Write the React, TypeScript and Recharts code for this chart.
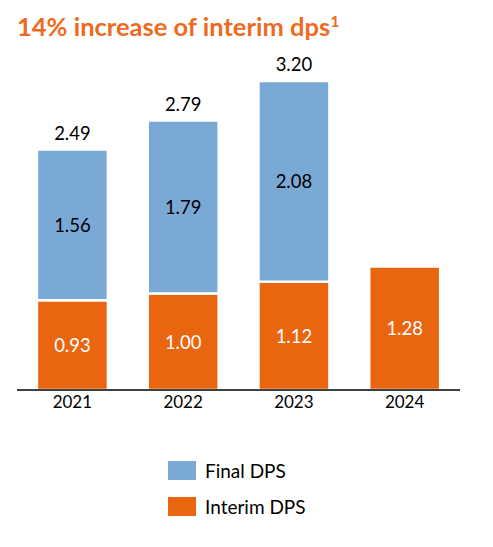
import React from 'react';
import { BarChart, Bar, XAxis, YAxis, LabelList, Legend } from 'recharts';

const years = ['2021', '2022', '2023', '2024'];
const finalDps: (number | null)[] = [1.56, 1.79, 2.08, null];
const interimDps: number[] = [0.93, 1.0, 1.12, 1.28];
const totalDps: (number | null)[] = [2.49, 2.79, 3.2, null];

const data = years.map((y, i) => ({
  year: y,
  final: finalDps[i],
  interim: interimDps[i],
  total: totalDps[i],
}));

const BLUE = '#7BA9D6';
const ORANGE = '#E9650F';
const FONT = 'Lato, "Open Sans", sans-serif';

const fmt = (v: any) => (v == null ? '' : Number(v).toFixed(2));

const TopLabel = (props: any) => {
  const { x, y, width, value } = props;
  if (value == null) return null;
  return (
    <text x={x + width / 2} y={y - 17} textAnchor="middle" dominantBaseline="central" fill="#000" fontSize={18.5} fontFamily={FONT}>
      {fmt(value)}
    </text>
  );
};

const makeInner = (color: string) => (props: any) => {
  const { x, y, width, height, value } = props;
  if (value == null) return null;
  return (
    <text x={x + width / 2} y={y + height / 2} textAnchor="middle" dominantBaseline="central" fill={color} fontSize={18.5} fontFamily={FONT}>
      {fmt(value)}
    </text>
  );
};

const legendItems = [
  { label: 'Final DPS', color: BLUE },
  { label: 'Interim DPS', color: ORANGE },
];

const CustomLegend = () => (
  <div style={{ fontFamily: FONT, fontSize: 19, color: '#000' }}>
    {legendItems.map((it) => (
      <div key={it.label} style={{ display: 'flex', alignItems: 'center', height: 36 }}>
        <div style={{ width: 28, height: 19, background: it.color, marginRight: 9 }} />
        <span>{it.label}</span>
      </div>
    ))}
  </div>
);

export default function App() {
  return (
    <div style={{ position: 'absolute', left: 0, top: 0, width: 493, height: 547, background: '#fff' }}>
      <div
        style={{
          position: 'absolute',
          left: 17,
          top: 11,
          fontFamily: FONT,
          fontWeight: 700,
          fontSize: 25.5,
          color: '#ED6B1F',
          whiteSpace: 'nowrap',
        }}
      >
        14% increase of interim dps<sup style={{ fontSize: 16, verticalAlign: 'super', lineHeight: 0 }}>1</sup>
      </div>
      <BarChart
        width={493}
        height={547}
        data={data}
        margin={{ top: 52, right: 33, bottom: 127, left: 17 }}
        barCategoryGap="18%"
      >
        <XAxis
          dataKey="year"
          tickLine={false}
          axisLine={{ stroke: '#000', strokeWidth: 1.3 }}
          tick={{ fill: '#000', fontSize: 17, fontFamily: FONT }}
          tickSize={4}
          tickMargin={2}
          height={30}
        />
        <YAxis hide domain={[0, 3.5]} />
        <Legend
          verticalAlign="middle"
          align="center"
          layout="vertical"
          content={<CustomLegend />}
          wrapperStyle={{ top: 452, left: 168, width: 200 }}
        />
        <Bar dataKey="interim" stackId="a" fill={ORANGE} stroke="#fff" strokeWidth={2.5} isAnimationActive={false}>
          <LabelList dataKey="interim" content={makeInner('#fff')} />
        </Bar>
        <Bar dataKey="final" stackId="a" fill={BLUE} stroke="#fff" strokeWidth={2.5} isAnimationActive={false}>
          <LabelList dataKey="final" content={makeInner('#000')} />
          <LabelList dataKey="total" content={TopLabel} />
        </Bar>
      </BarChart>
    </div>
  );
}
